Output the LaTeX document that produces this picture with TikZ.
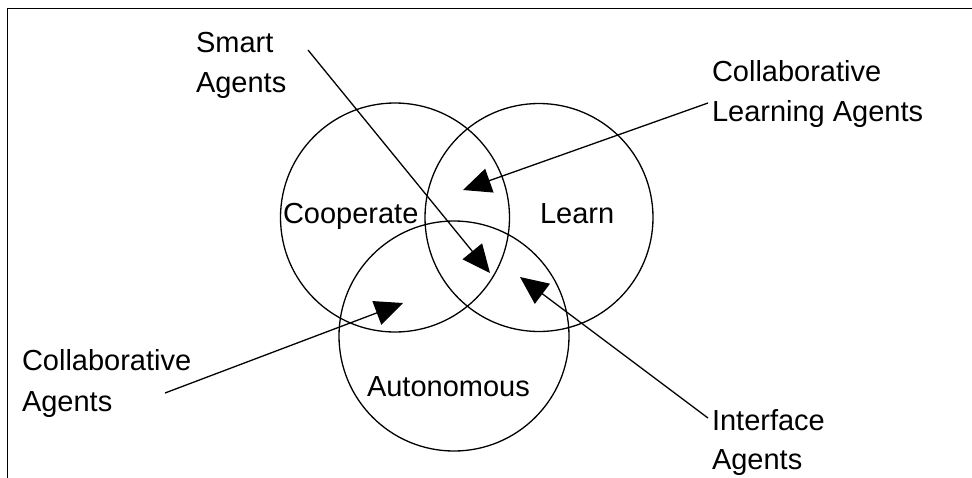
\documentclass[tikz,border=0pt]{standalone}
\usepackage{fontspec}
\setmainfont{Liberation Sans}
\usetikzlibrary{arrows.meta}
\tikzset{
  lbl/.style={anchor=base west, inner sep=0pt, outer sep=0pt, font=\fontsize{29}{34}\selectfont},
  ring/.style={draw=black, line width=1.3pt},
  pointer/.style={draw=black, line width=1.3pt, -{Triangle[length=28pt,width=25pt]}},
  frame/.style={draw=black, line width=1.6pt}
}
\begin{document}
\begin{tikzpicture}[x=1pt,y=-1pt]
\useasboundingbox (0,0) rectangle (972,477);
\fill[white] (0,0) rectangle (972,477);
\draw[frame] (7.5,478) -- (7.5,8.5) -- (973,8.5);
% circles
\node[ring, circle, minimum size=229pt, inner sep=0pt] (coop) at (395,217.5) {};
\node[ring, circle, minimum size=228pt, inner sep=0pt] (learn) at (539,217.5) {};
\node[ring, circle, minimum size=230pt, inner sep=0pt] (auto) at (454,336) {};
% circle labels
\node[lbl] (tcoop) at (283,223) {Cooperate};
\node[lbl] (tlearn) at (540,223) {Learn};
\node[lbl] (tauto) at (367,396) {Autonomous};
% outside labels
\node[lbl] (smart1) at (196,52) {Smart};
\node[lbl] (smart2) at (196,92) {Agents};
\node[lbl] (cla1) at (712,81) {Collaborative};
\node[lbl] (cla2) at (712,121) {Learning Agents};
\node[lbl] (ca1) at (22,370) {Collaborative};
\node[lbl] (ca2) at (22,411) {Agents};
\node[lbl] (ia1) at (712,430) {Interface};
\node[lbl] (ia2) at (712,469) {Agents};
% arrow ends
\coordinate (smartS) at (308,50);
\coordinate (smartT) at (490,273);
\coordinate (claS) at (708,103);
\coordinate (claT) at (463,190);
\coordinate (caS) at (165,393);
\coordinate (caT) at (403,303);
\coordinate (iaS) at (708,418);
\coordinate (iaT) at (520,277);
\draw[pointer] (smartS) -- (smartT);
\draw[pointer] (claS) -- (claT);
\draw[pointer] (caS) -- (caT);
\draw[pointer] (iaS) -- (iaT);
\end{tikzpicture}
\end{document}
